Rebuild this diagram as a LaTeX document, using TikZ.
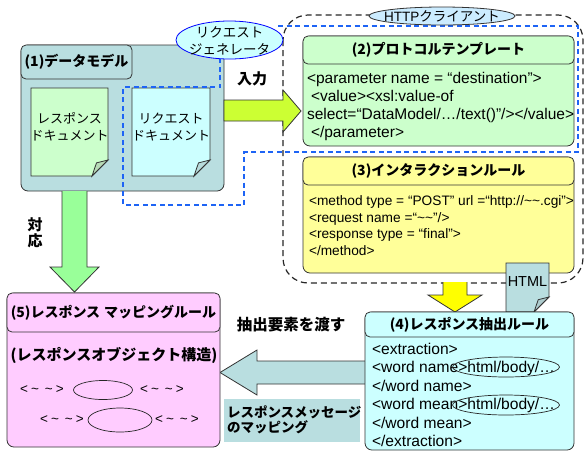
\documentclass[tikz,border=0pt]{standalone}
\usepackage{fontspec}
\setmainfont{Liberation Sans}
\newfontfamily\cjk{Noto Sans CJK JP}
\usetikzlibrary{calc,shapes.geometric}
\definecolor{tealgray}{RGB}{185,222,224}
\definecolor{lgreen}{RGB}{204,255,204}
\definecolor{lyellow}{RGB}{255,255,153}
\definecolor{lcyan}{RGB}{204,255,255}
\definecolor{lpink}{RGB}{255,204,255}
\definecolor{garrow}{RGB}{153,255,153}
\definecolor{yarrow}{RGB}{255,255,0}
\definecolor{ygarrow}{RGB}{204,255,51}
\definecolor{dblue}{RGB}{30,100,245}
\definecolor{ellblue}{RGB}{204,236,255}
\newcommand{\docpath}[5]{(#1,#2) -- (#3,#2) -- (#3,#4-#5) -- (#3-#5,#4) -- (#1,#4) -- cycle}
\newcommand{\flappath}[5]{(#3,#4-#5) -- (#3-0.72*#5,#4-0.82*#5) -- (#3-#5,#4) -- cycle}
\newcommand{\tld}{<\hspace{3pt}\textasciitilde\hspace{6pt}\textasciitilde\hspace{3pt}>}
\begin{document}
\begin{tikzpicture}[x=1pt,y=-1pt,
  every node/.style={inner sep=0pt, outer sep=0pt},
  panel/.style={draw=black!80, line width=0.8pt, rounded corners=7pt, anchor=north west},
  band/.style={draw=black!80, line width=0.8pt, rounded corners=5pt, anchor=north west},
  jtitle/.style={font=\cjk\bfseries\fontsize{14}{16}\selectfont},
  jbold/.style={font=\cjk\bfseries\fontsize{15}{16}\selectfont},
  jnorm/.style={font=\cjk\fontsize{13}{17}\selectfont, align=center},
  code/.style={align=left, anchor=north west, font=\fontsize{15.5}{18}\selectfont},
  bdash/.style={draw=dblue, line width=1.2pt, dash pattern=on 5pt off 3.5pt},
  kdash/.style={draw=black!85, line width=1.2pt, dash pattern=on 6pt off 4pt},
  blockarrow/.style={draw=black!80, line width=0.8pt, line join=miter},
  doc/.style={draw=black!80, line width=0.8pt},
  tilde/.style={font=\fontsize{13.5}{15}\selectfont},
]
\useasboundingbox (0,0) rectangle (585,451);

% HTTP client region
\draw[kdash, rounded corners=25pt] (283,15) rectangle (583,283);

% (1) data model
\node[panel, fill=tealgray, minimum width=203pt, minimum height=146pt] (dm) at (21,45) {};
\node[band, fill=tealgray, minimum width=111pt, minimum height=34pt, jtitle] (dmT) at (21,45) {(1)データモデル};
\draw[doc, fill=lgreen] \docpath{31}{88}{108}{176}{16};
\draw[doc, fill=lgreen!72!gray] \flappath{31}{88}{108}{176}{16};
\node[jnorm] (resdoc) at (69.5,127) {レスポンス\\ドキュメント};
\draw[doc, fill=lcyan] \docpath{132}{88}{210}{176}{16};
\draw[doc, fill=lcyan!72!gray] \flappath{132}{88}{210}{176}{16};
\node[jnorm] (reqdoc) at (171,127) {リクエスト\\ドキュメント};

% (2) protocol template
\node[panel, fill=lgreen, minimum width=271pt, minimum height=110pt] (pt) at (303,36) {};
\node[band, fill=lgreen, minimum width=271pt, minimum height=28pt, jtitle] (ptT) at (303,36) {(2)プロトコルテンプレート};
\node[code] (ptB) at (307,72) {<parameter name = “destination”>\\
\hspace*{4pt}<value><xsl:value-of\\
select=“DataModel/…/text()”/></value>\\
\hspace*{4pt}</parameter>};

% (3) interaction rule
\node[panel, fill=lyellow, minimum width=271pt, minimum height=116pt] (ir) at (303,157) {};
\node[band, fill=lyellow, minimum width=271pt, minimum height=28pt, jtitle] (irT) at (303,157) {(3)インタラクションルール};
\node[code, font=\fontsize{13.7}{16.4}\selectfont] (irB) at (309,196) {<method type = “POST” url =“http://\textasciitilde\textasciitilde.cgi”>\\
<request name =“\textasciitilde\textasciitilde”/>\\
<response type = “final”>\\
</method>};

% HTML document
\draw[doc, fill=tealgray] \docpath{506}{263}{549}{312}{15};
\draw[doc, fill=tealgray!80!gray] \flappath{506}{263}{549}{312}{15};
\node[font=\fontsize{14.5}{16}\selectfont] (html) at (527.5,282) {HTML};

% request generator region
\draw[bdash] (278,26) -- (578,26) -- (578,152) -- (244,152) -- (244,205) -- (123,205) -- (123,87) -- (220,87) -- (220,59);

% ellipses
\node[ellipse, draw=blue, line width=0.8pt, fill=lcyan, minimum width=107pt, minimum height=38pt] (rg) at (229.5,40) {};
\node[jnorm, font=\cjk\fontsize{13.5}{17}\selectfont] (rgT) at (229.5,40.5) {リクエスト\\ジェネレータ};
\node[ellipse, draw=black!80, line width=0.8pt, fill=ellblue, minimum width=146pt, minimum height=18pt] (hc) at (442,16) {};
\node[font=\fontsize{13.5}{15}\selectfont] (hcT) at (442,16) {HTTP{\cjk クライアント}};

% arrows
\draw[blockarrow, fill=ygarrow] (224,100) -- (283,100) -- (283,90) -- (301,111) -- (283,132) -- (283,121) -- (224,121) -- cycle;
\node[jbold] (inp) at (252,79) {入力};
\draw[blockarrow, fill=garrow] (62,191) -- (62,267) -- (50,267) -- (74.5,292) -- (99,267) -- (87,267) -- (87,191);
\node[jbold, align=center, font=\cjk\bfseries\fontsize{15}{16.5}\selectfont] (corr) at (35,233) {対\\応};
\draw[blockarrow, fill=yarrow] (443,282) -- (443,295) -- (428,295) -- (455,312) -- (482,295) -- (467,295) -- (467,282);
\draw[blockarrow, fill=tealgray] (365,361) -- (257,361) -- (257,350) -- (220,372.5) -- (257,395) -- (257,384) -- (365,384);
\node[jbold, font=\cjk\bfseries\fontsize{15.5}{17}\selectfont] (pass) at (291,325) {抽出要素を渡す};
\node[fill=tealgray, minimum width=136pt, minimum height=43pt, anchor=north west] (mapbg) at (224,399) {};
\node[anchor=west, align=left, font=\cjk\bfseries\fontsize{13.5}{15.5}\selectfont] (map) at (227,420) {レスポンスメッセージ\\のマッピング};

% (4) response extraction rule
\node[panel, fill=lcyan, minimum width=209pt, minimum height=138pt] (er) at (365,312) {};
\node[band, fill=lcyan, minimum width=209pt, minimum height=25pt, jtitle] (erT) at (365,312) {(4)レスポンス抽出ルール};
\node[code, font=\fontsize{15.6}{18.5}\selectfont] (erB) at (372,343) {<extraction>\\
<word name>html/body/…\\
</word name>\\
<word mean>html/body/…\\
</word mean>\\
</extraction>};
\node[ellipse, draw=black!85, line width=0.7pt, minimum width=107pt, minimum height=20pt] (e1) at (506,367) {};
\node[ellipse, draw=black!85, line width=0.7pt, minimum width=107pt, minimum height=20pt] (e2) at (506,405) {};

% (5) response mapping rule
\node[panel, fill=lpink, minimum width=213pt, minimum height=154pt] (mr) at (7,293) {};
\node[band, fill=lpink, minimum width=213pt, minimum height=39pt, jtitle] (mrT) at (7,293) {(5)レスポンス\hspace{4pt}マッピングルール};
\node[jtitle, font=\cjk\bfseries\fontsize{15}{16}\selectfont] (obj) at (114,355) {(レスポンスオブジェクト構造)};
\node[ellipse, draw=black!85, line width=0.7pt, minimum width=59pt, minimum height=19pt] (o1) at (103,390) {};
\node[ellipse, draw=black!85, line width=0.7pt, minimum width=64pt, minimum height=24pt] (o2) at (120,420) {};
\node[tilde] (t1) at (42,390) {\tld};
\node[tilde] (t2) at (162,390) {\tld};
\node[tilde] (t3) at (62,420) {\tld};
\node[tilde] (t4) at (177,420) {\tld};
\end{tikzpicture}
\end{document}
